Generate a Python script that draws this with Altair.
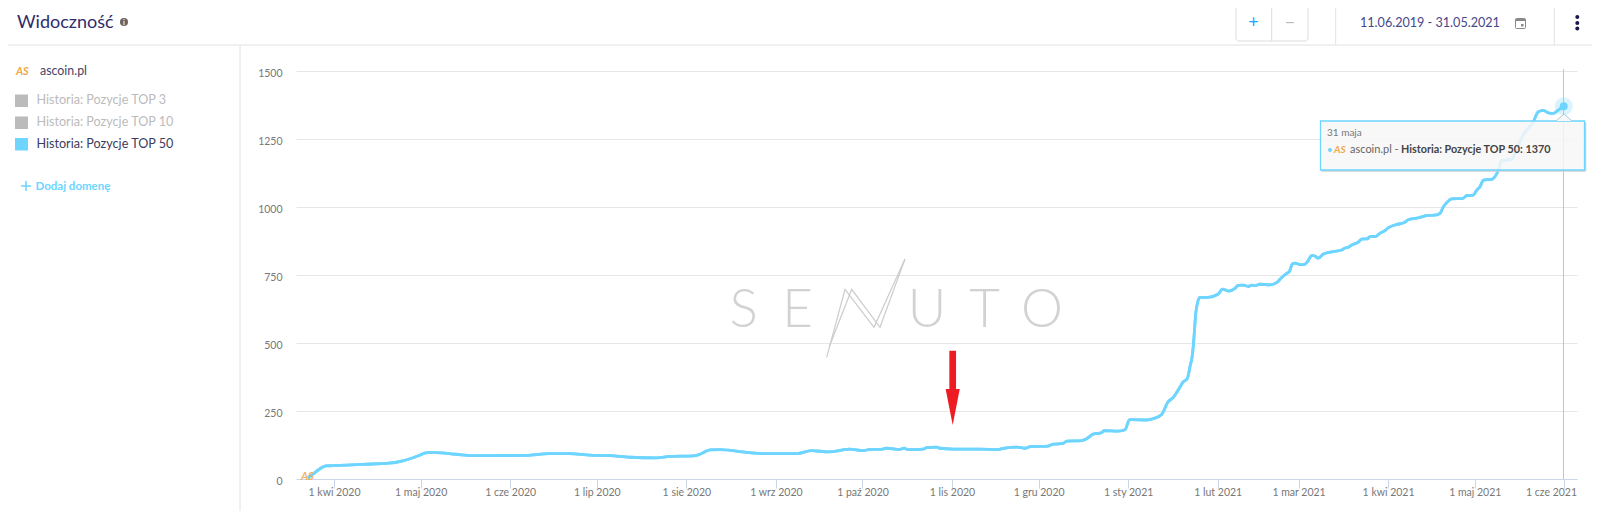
import altair as alt
import pandas as pd

# ---- data ----
days_since_2020_04_01 = [-9.1,-7.4,-5.1,-2.8,-0.5,9.9,19.1,23.8,28.4,32.4,35.3,42.2,48,56,66.5,74.5,81.5,88.6,95.6,102.5,111.7,116.3,124.4,126.7,130.2,133.7,142.9,149.8,160.2,165.4,171.2,175.8,178.4,183.3,185.6,189.1,191.4,196,197.4,198.9,204,205.2,208.7,209.8,214.4,223.7,230,231.8,236.4,239.3,241,247.3,249.1,252.5,253.7,258.9,260.6,262.9,265.8,266.6,271.6,273.9,275.4,276.2,281.4,283.7,286.6,288.7,290.6,293,293.9,295.5,296.4,297.3,297.8,298.4,299.1,299.9,302.7,306.2,307.6,309.7,312,313.1,314.9,316.6,317.8,318.9,320.6,324.1,326.4,328.1,329.9,330.8,331.8,332.8,334.5,336,337.2,338.5,339.3,340.8,342.6,344.9,348.9,350.1,351.2,352.4,354.7,355.9,357.8,358.7,360.8,362.2,363.9,365.1,367.4,370.8,372,374.9,376.6,378.9,381.2,383,384.1,385.3,387,391,392.2,394.5,395.7,396.8,398,400.9,403.2,404.3,407.8,408.9,411.8,415.3,417,418.8,420.5,422.2,423.9,425.9]
top50_values = [3,17,36,48,49,54,58,67,82,97,97,91,86,86,87,93,93,88,86,80,78,83,85,91,107,108,98,93,93,104,100,106,110,104,109,109,113,109,113,108,110,115,117,113,110,110,108,113,117,113,119,121,128,131,139,141,148,165,170,178,176,181,217,218,217,222,237,282,300,339,355,370,413,462,523,609,652,668,668,680,698,691,701,712,713,708,713,711,716,714,722,740,756,762,790,794,788,788,801,821,821,812,827,834,842,849,852,860,871,882,883,891,892,904,913,924,934,944,953,959,964,969,970,977,1000,1016,1030,1032,1042,1044,1062,1074,1099,1102,1136,1170,1175,1197,1265,1313,1350,1355,1346,1344,1356,1370]
y_ticks = [0,250,500,750,1000,1250,1500]
months_pl = ['sty','lut','mar','kwi','maj','cze','lip','sie','wrz','paź','lis','gru']
tick_months = [(2020,m) for m in range(4,13)] + [(2021,m) for m in range(1,7)]
legend_labels = ['Historia: Pozycje TOP 3','Historia: Pozycje TOP 10','Historia: Pozycje TOP 50']
legend_colors = ['#bbbbbb','#bbbbbb','#6dd5ff']
legend_text_colors = ['#bbbbbb','#bbbbbb','#3c3c5e']

FONT = 'Lato'
L, T = 296, 71          # page position of the plot's corner
PW, PH = 1281, 408
BLUE = '#6dd5ff'
NAVY = '#2f2c6b'
LINE = '#e2e2e2'

one = pd.DataFrame({'a':[0]})
def text(x, y, s, size=13, color='#444', weight=400, align='left', style='normal', opacity=1, font=FONT):
    return alt.Chart(one).mark_text(font=font, fontSize=size, color=color, fontWeight=weight, align=align,
                                    baseline='alphabetic', fontStyle=style, opacity=opacity).encode(
        x=alt.value(x-L), y=alt.value(y-T), text=alt.value(s))
def rule(x1, y1, x2, y2, color=LINE, w=1):
    return alt.Chart(one).mark_rule(color=color, strokeWidth=w).encode(
        x=alt.value(x1-L), x2=alt.value(x2-L), y=alt.value(y1-T), y2=alt.value(y2-T))
def box(x1, y1, x2, y2, fill='transparent', stroke=None, w=1, r=0, fill_opacity=1):
    kw = dict(fill=fill, cornerRadius=r, fillOpacity=fill_opacity)
    if stroke: kw.update(stroke=stroke, strokeWidth=w)
    return alt.Chart(one).mark_rect(**kw).encode(
        x=alt.value(x1-L), x2=alt.value(x2-L), y=alt.value(y1-T), y2=alt.value(y2-T))
def dot(x, y, r, color, opacity=1):
    return alt.Chart(one).mark_circle(color=color, opacity=opacity, size=4*r*r).encode(
        x=alt.value(x-L), y=alt.value(y-T))
def symbol(x, y, path, extent, fill, stroke=None, w=1):
    kw = dict(shape=path, filled=True, fill=fill, size=extent*extent, opacity=1)
    if stroke: kw.update(stroke=stroke, strokeWidth=w)
    return alt.Chart(one).mark_point(**kw).encode(x=alt.value(x-L), y=alt.value(y-T))

df = pd.DataFrame({'date': pd.Timestamp('2020-04-01') + pd.to_timedelta(days_since_2020_04_01, unit='D'),
                   'v': top50_values})

x_scale = alt.Scale(domain=[alt.DateTime(year=2020, month=3, date=18, hours=20),
                            alt.DateTime(year=2021, month=6, date=5, hours=10)])
y_scale = alt.Scale(domain=[0,1500], nice=False)

# the last label is pushed inward to end at the plot's edge, so it is drawn apart below
month_js = '[' + ','.join(f"'{m}'" for m in months_pl) + ']'
x_axis = alt.Axis(values=[alt.DateTime(year=y, month=m, date=1) for y,m in tick_months],
                  labelExpr=f"(year(datum.value) == 2021 && month(datum.value) == 5) ? '' : '1 ' + {month_js}[month(datum.value)] + ' ' + year(datum.value)",
                  title=None, grid=False, domainColor='#ccd6eb', tickColor='#ccd6eb', tickSize=9,
                  labelFont=FONT, labelFontSize=10.5, labelColor='#777777', labelPadding=-1, labelOverlap=False,
                  labelFlush=False)
y_axis = alt.Axis(values=y_ticks, format='d', title=None, domain=False, ticks=False, gridColor='#e6e6e6', gridWidth=1,
                  labelFont=FONT, labelFontSize=10.5, labelColor='#777777', labelPadding=14, labelOffset=2.5)

line = alt.Chart(df).mark_line(color=BLUE, strokeWidth=2.8, interpolate='monotone').encode(
    x=alt.X('date:T', scale=x_scale, axis=x_axis),
    y=alt.Y('v:Q', scale=y_scale, axis=y_axis))
last_label = text(1577,496,'1 cze 2021',size=10.5,color='#777777',align='right')

# watermark
wm_letters = [('S',743.7),('E',797.5),('U',927),('T',984.5),('O',1042)]
wm = [text(x, 327.3, c, size=53, color='#d2d2d2', weight=300, align='center') for c,x in wm_letters]
zig1 = [(826.7,357.3),(845,289.3),(874,327.3),(905,259)]
zig2 = [(829.3,346.7),(851.7,289.3),(880,327.3),(905,259)]
for z in (zig1, zig2):
    wm.append(alt.Chart(pd.DataFrame({'px':[p[0]-L for p in z],'py':[p[1]-T for p in z],'i':range(len(z))}))
              .mark_line(color='#cccccc', strokeWidth=1.2)
              .encode(x=alt.X('px:Q', scale=None, axis=None), y=alt.Y('py:Q', scale=None, axis=None), order='i:Q'))

arrow = symbol(952.7, 387.85, 'M-0.09,-1 L0.09,-1 L0.09,0.03 L0.19,0.03 L0,1 L-0.19,0.03 L-0.09,0.03 Z', 74.3, '#ed1c24')

# header and sidebar
ui = [
    rule(0,45,1600,45), rule(240,45,240,519),
    rule(1335.7,0,1335.7,45), rule(1554.3,0,1554.3,45),
    text(17,28,'Widoczność',size=18,color=NAVY),
    dot(124,22,4,'#666666'), text(124,25,'i',size=7,color='#ffffff',weight=700,align='center'),
    box(1236,4,1308,41,fill='#ffffff',stroke='#dddddd',r=3), rule(1271.7,4,1271.7,41,color='#dddddd'),
    text(1253.5,28,'+',size=18,color='#18a8ff',align='center'),
    text(1290,28,'−',size=18,color='#bbbbbb',align='center'),
    text(1360,26.5,'11.06.2019 - 31.05.2021',size=12.6,color='#47478c'),
    box(1515.5,18.5,1525.5,28.5,stroke='#888888',w=1,r=1), rule(1515.5,20,1525.5,20,color='#888888',w=2),
    box(1521,24,1523.5,26.5,fill='#888888'),
    dot(1577.3,17,2,'#1a1a4a'), dot(1577.3,23,2,'#1a1a4a'), dot(1577.3,28.5,2,'#1a1a4a'),
    text(16,75,'AS',size=11,color='#f0a848',weight=700,style='italic'),
    text(40,75,'ascoin.pl',size=12.4,color='#444466'),
    rule(21,186,31,186,color=BLUE,w=1.5), rule(26,181,26,191,color=BLUE,w=1.5),
    text(35.5,190,'Dodaj domenę',size=11.5,color=BLUE,weight=700),
]
for lab,col,tcol,y0 in zip(legend_labels,legend_colors,legend_text_colors,[94.5,116.5,138]):
    ui.append(box(15,y0,28,y0+12.5,fill=col))
    ui.append(text(36.5,y0+9.5,lab,size=12.6,color=tcol))

# hover marker and tooltip
marker = [rule(1563.5,69,1563.5,479,color='#c4c4c4'),
          dot(1563.7,106.3,9,BLUE,opacity=0.25), dot(1563.7,106.3,4,BLUE)]
tip = [
    rule(1321.5,171,1585.5,171,color='#cfcfcf',w=1.5), rule(1585.5,122,1585.5,171,color='#cfcfcf',w=1.5),
    box(1320.5,121,1584.5,170,fill='#f7f7f7',stroke=BLUE,w=1.3,fill_opacity=0.85),
    symbol(1564,117.5,'M-1,0.44 L0,-0.44 L1,0.44',16,'#f7f7f7',stroke='#a9c8d6'),
    text(1327,136,'31 maja',size=10,color='#777777'),
    dot(1330,150,2,BLUE),
    text(1334,153,'AS',size=10,color='#f0a848',weight=700,style='italic'),
    text(1350,153,'ascoin.pl - ',size=11,color='#666666'),
    text(1401,153,'Historia: Pozycje TOP 50: 1370',size=10.8,color='#444444',weight=700),
]
start_logo = text(301,479.5,'AS',size=11,color='#f0a848',weight=700,style='italic',opacity=0.85)

CW, CH = 1584, 503
chart = alt.layer(line, *wm, arrow, line, last_label, start_logo, *ui, *marker, *tip).properties(
    width=PW, height=PH,
    padding={'left':L-8,'top':T-8,'right':CW-(L-8)-PW,'bottom':CH-(T-8)-PH},
    autosize=alt.AutoSizeParams(type='none'),
    background='#ffffff'
).configure_view(stroke=None)

chart.save("out.html", embed_options={"renderer": "svg", "actions": False})
